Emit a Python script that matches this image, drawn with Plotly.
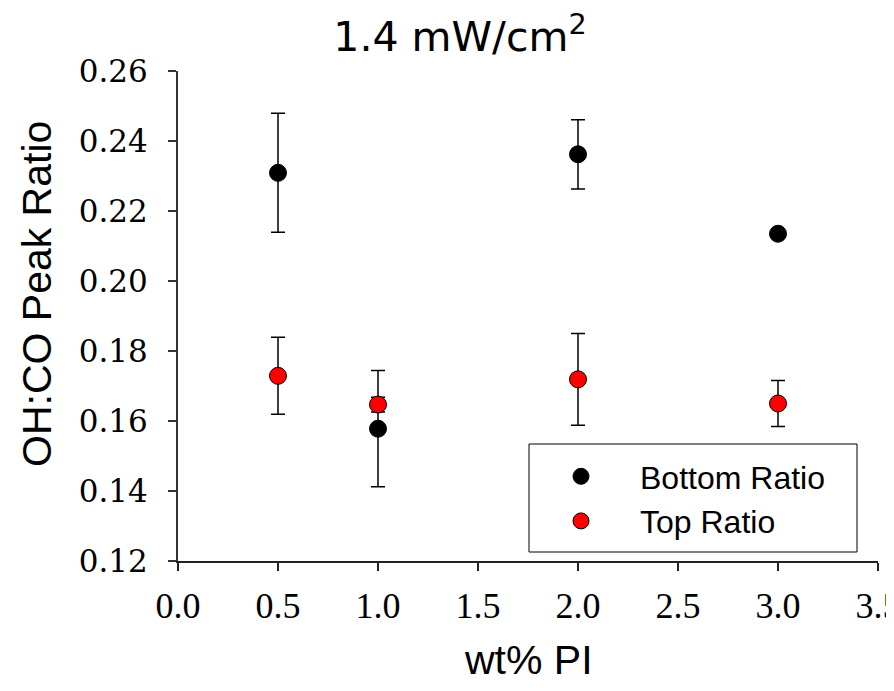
import plotly.graph_objects as go

wt_pi = [0.5, 1.0, 2.0, 3.0]
bottom_ratio = [0.2309, 0.1578, 0.2362, 0.2135]
bottom_err = [0.0170, 0.0166, 0.0099, 0.0]
top_ratio = [0.1729, 0.1647, 0.1719, 0.1650]
top_err = [0.0110, 0.0021, 0.0131, 0.0066]

x_ticks = [0.0, 0.5, 1.0, 1.5, 2.0, 2.5, 3.0, 3.5]
y_ticks = [0.12, 0.14, 0.16, 0.18, 0.20, 0.22, 0.24, 0.26]

# page offset of the plot div (default body margin); keep page within viewport
OFF = 8
VW, VH = 894, 691
W, H = VW - 2 * OFF, VH - 2 * OFF
L, R, T, B = 178, 878, 71, 561  # target plot area in window pixels

def px(xw):
    return (xw - L) / (R - L)

def py(yw):
    return (B - yw) / (B - T)

fig = go.Figure()
fig.add_trace(go.Scatter(
    x=wt_pi, y=bottom_ratio, mode="markers", name="Bottom Ratio\u00a0\u00a0",
    legendgroup="a",
    marker=dict(color="black", size=17, line=dict(color="black", width=1)),
    error_y=dict(type="data", array=bottom_err, visible=True, color="black",
                 thickness=1.5, width=7),
))
fig.add_trace(go.Scatter(
    x=wt_pi, y=top_ratio, mode="markers", name="Top Ratio",
    legendgroup="b",
    marker=dict(color="#ff0000", size=17, line=dict(color="black", width=1)),
    error_y=dict(type="data", array=top_err, visible=True, color="black",
                 thickness=1.5, width=7),
))

ytickfont = dict(family="DejaVu Serif", size=31, color="black")
xtickfont = dict(family="Liberation Serif", size=36, color="black")
fig.update_layout(
    width=W, height=H,
    margin=dict(l=L - OFF, r=W - (R - OFF), t=T - OFF, b=H - (B - OFF)),
    plot_bgcolor="white", paper_bgcolor="white",
    showlegend=True,
    legend=dict(
        x=px(522), y=py(449), xanchor="left", yanchor="top",
        borderwidth=0, bgcolor="rgba(0,0,0,0)",
        font=dict(family="Liberation Sans", size=32, color="black"),
        itemwidth=108, tracegroupgap=0,
    ),
    shapes=[dict(type="rect", xref="paper", yref="paper",
                 x0=px(529), x1=px(857), y0=py(552), y1=py(444),
                 line=dict(color="black", width=1), fillcolor="white",
                 layer="below")],
    title=dict(text="1.4 mW/cm<sup>2</sup>", x=(460 - OFF) / W, xanchor="center",
               y=1 - (37 - OFF) / H, yanchor="middle",
               font=dict(family="DejaVu Sans", size=41, color="black")),
    xaxis=dict(range=[0, 3.5], tickvals=x_ticks,
               ticktext=[f"{v:.1f}" for v in x_ticks],
               showgrid=False, zeroline=False, showline=True,
               linecolor="#222", linewidth=2, ticks="outside", ticklen=8,
               tickwidth=1.5, tickcolor="#222", tickfont=xtickfont,
               ticklabelstandoff=4, ticklabeloverflow="allow",
               automargin=False),
    yaxis=dict(range=[0.12, 0.26], tickvals=y_ticks,
               ticktext=[f"{v:.2f}" for v in y_ticks],
               showgrid=False, zeroline=False, showline=True,
               linecolor="#333", linewidth=2, ticks="outside", ticklen=8,
               tickwidth=1.5, tickcolor="#333", tickfont=ytickfont,
               ticklabelstandoff=14, ticklabeloverflow="allow",
               automargin=False),
    annotations=[
        dict(text="OH:CO Peak Ratio", xref="paper", yref="paper",
             x=px(37), y=py(294), showarrow=False,
             textangle=-90, xanchor="center", yanchor="middle",
             font=dict(family="Liberation Sans", size=41, color="black")),
        dict(text="wt% PI", xref="paper", yref="paper",
             x=px(528), y=py(660), showarrow=False,
             xanchor="center", yanchor="middle",
             font=dict(family="Liberation Sans", size=41, color="black")),
    ],
)

fig.write_html("out.html")
